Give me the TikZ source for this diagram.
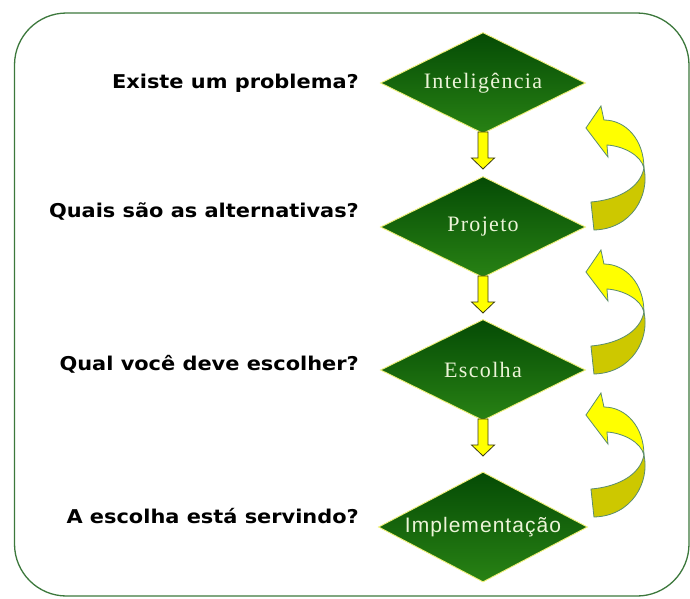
\documentclass[tikz,border=0pt]{standalone}
\usepackage{fontspec}
\usetikzlibrary{shapes.geometric,calc}
\newfontfamily\lblfont[FakeStretch=1.1]{DejaVu Sans Bold}
\newfontfamily\dmdfont[LetterSpace=6]{Liberation Serif}
\newfontfamily\impfont[LetterSpace=5]{Liberation Sans}
\definecolor{frameg}{RGB}{60,120,60}
\definecolor{dtop}{RGB}{5,75,5}
\definecolor{dbot}{RGB}{40,130,20}
\definecolor{dedge}{RGB}{240,240,120}
\definecolor{dtext}{RGB}{236,244,216}
\definecolor{ayel}{RGB}{255,255,0}
\definecolor{adark}{RGB}{205,200,0}
\definecolor{aline}{RGB}{90,140,110}
\definecolor{dnline}{RGB}{60,60,20}
\tikzset{
  dmd/.style={diamond, aspect=2, draw=dedge, line width=0.9pt, top color=dtop, bottom color=dbot,
    minimum width=205pt, minimum height=101pt, inner sep=0pt, text=dtext},
  lbl/.style={anchor=base east, inner sep=0pt, font=\lblfont\fontsize{19}{19}\selectfont},
  dnar/.style={draw=dnline, line width=0.8pt, fill=ayel, line join=miter},
  cupper/.style={draw=aline, line width=0.8pt, fill=ayel},
  clower/.style={draw=aline, line width=0.8pt, fill=adark},
  pics/backarrow/.style={code={
    \path[cupper] (15,23) -- (0,45) -- (22,74) -- (21,62)
      .. controls (37,63) and (55,72) .. (58,85)
      .. controls (58,57) and (40,37) .. (18,37) -- cycle;
    \path[clower] (58,85) .. controls (64,112) and (46,146) .. (8,147)
      -- (5,119) .. controls (30,117) and (54,106) .. (58,85) -- cycle;
  }}
}
\newcommand\dnarrow[1]{%
  \path[dnar] let \p1=($(#1.south)+(0,-2)$) in
    (\x1-5pt,\y1) -- (\x1+5pt,\y1) -- (\x1+5pt,\y1-26pt) -- (\x1+11.5pt,\y1-26pt)
    -- (\x1,\y1-37pt) -- (\x1-11.5pt,\y1-26pt) -- (\x1-5pt,\y1-26pt) -- cycle;}
\begin{document}
\begin{tikzpicture}[x=1pt,y=-1pt]
\useasboundingbox (0,0) rectangle (690,598);
\fill[white] (0,0) rectangle (690,598);
\draw[frameg, line width=1.3pt, rounded corners=52pt] (14.5,13) rectangle (689,596);

\node[dmd, font=\dmdfont\fontsize{22}{22}\selectfont] (d1) at (483,83) {Inteligência};
\node[dmd, font=\dmdfont\fontsize{22}{22}\selectfont] (d2) at (483,227) {Projeto};
\node[dmd, font=\dmdfont\fontsize{22}{22}\selectfont] (d3) at (483,370) {Escolha};
\node[dmd, minimum width=209pt, minimum height=110pt, font=\impfont\fontsize{21}{21}\selectfont] (d4) at (483,527) {Implementação};

\node[lbl] (q1) at (359,88) {Existe um problema?};
\node[lbl] (q2) at (359,217) {Quais são as alternativas?};
\node[lbl] (q3) at (359,370) {Qual você deve escolher?};
\node[lbl] (q4) at (359,523) {A escolha está servindo?};

\dnarrow{d1}
\dnarrow{d2}
\dnarrow{d3}

\pic at (d1.east) {backarrow};
\pic at (d2.east) {backarrow};
\pic at (d3.east) {backarrow};
\end{tikzpicture}
\end{document}
